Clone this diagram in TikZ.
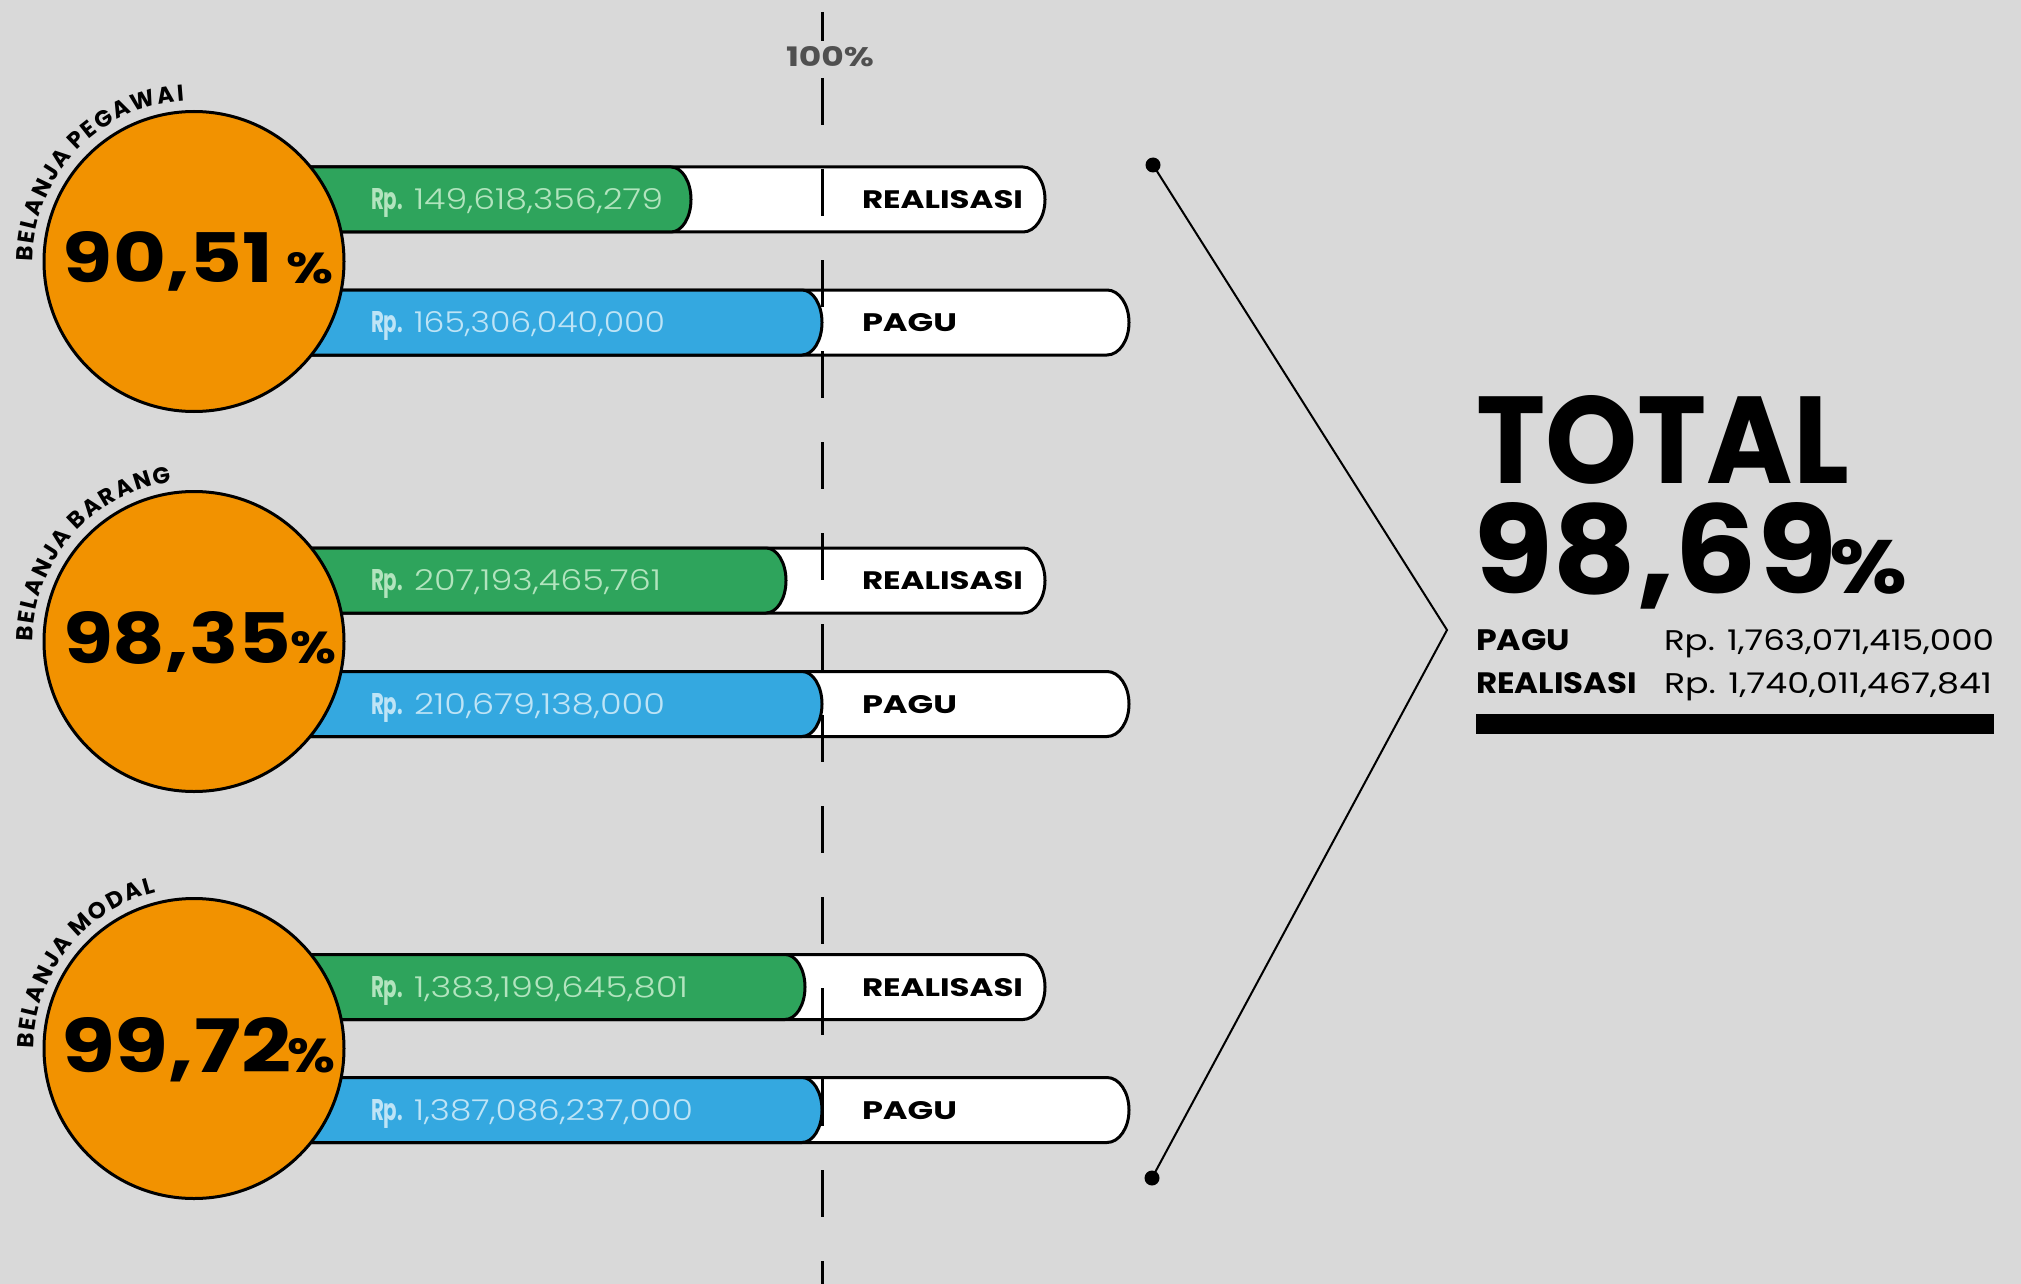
\documentclass[tikz,border=0pt]{standalone}
\usepackage{fontspec}
\usepackage{graphicx}
\setmainfont{Poppins}[Numbers=Proportional]
\newfontfamily\pbold{Poppins Bold}[Numbers=Proportional]
\newfontfamily\plight{Poppins Light}[Numbers=Proportional]
\usetikzlibrary{decorations.text}
\definecolor{bg}{RGB}{217,217,217}
\definecolor{orng}{RGB}{242,146,0}
\definecolor{grn}{RGB}{46,164,92}
\definecolor{blu}{RGB}{52,168,224}
\definecolor{gtxt}{RGB}{178,228,190}
\definecolor{btxt}{RGB}{190,228,246}
\definecolor{pgray}{RGB}{80,80,80}
\newcommand\fitbox[3]{\resizebox{#1pt}{#2pt}{#3}}
% \valbar{name}{center y}{bar end x}{fill end x}{colour}{text colour}{number width}{number}{label}
\newcommand\valbar[9]{%
  \draw[barline, fill=white] (250,-#2+32.5) -- (#3-22,-#2+32.5)
     arc[start angle=90, end angle=-90, x radius=22, y radius=32.5]
     -- (250,-#2-32.5) -- cycle;
  \draw[barline, fill=#5] (250,-#2+32.5) -- (#4-20,-#2+32.5)
     arc[start angle=90, end angle=-90, x radius=20, y radius=32.5]
     -- (250,-#2-32.5) -- cycle;
  \node[txt, text=#6] (#1rp) at (371,-#2-10) {\fitbox{32}{21}{\pbold Rp.}};
  \node[txt, text=#6] (#1num) at (414,-#2-10) {\fitbox{#7}{21}{\plight #8}};
  \node[txt] (#1lab) at (862,-#2-9) {#9};
}
\begin{document}
\begin{tikzpicture}[x=1pt, y=1pt,
  barline/.style={draw=black, line width=3pt},
  txt/.style={anchor=base west, inner sep=0pt, outer sep=0pt},
  bigcirc/.style={circle, draw=black, line width=3pt, fill=orng, minimum size=300pt, inner sep=0pt},
  dotnode/.style={circle, fill=black, minimum size=15pt, inner sep=0pt},
  arctext/.style={decorate, decoration={text along path, text align=left, text={#1}}}]
\fill[bg] (0,0) rectangle (2021,-1284);
\useasboundingbox (0,0) rectangle (2021,-1284);

% ---- row 1
\valbar{ra}{199.5}{1045}{691}{grn}{gtxt}{249}{149,618,356,279}{\fitbox{161}{18}{\pbold REALISASI}}
\valbar{pa}{322.5}{1129}{822}{blu}{btxt}{251}{165,306,040,000}{\fitbox{95}{18}{\pbold PAGU}}
% ---- row 2
\valbar{rb}{580.5}{1045}{786}{grn}{gtxt}{247}{207,193,465,761}{\fitbox{161}{18}{\pbold REALISASI}}
\valbar{pb}{704}{1129}{822}{blu}{btxt}{251}{210,679,138,000}{\fitbox{95}{18}{\pbold PAGU}}
% ---- row 3
\valbar{rc}{987}{1045}{805}{grn}{gtxt}{274}{1,383,199,645,801}{\fitbox{161}{18}{\pbold REALISASI}}
\valbar{pc}{1110}{1129}{822}{blu}{btxt}{279}{1,387,086,237,000}{\fitbox{95}{18}{\pbold PAGU}}

% ---- circles
\node[bigcirc] (c1) at (194,-261.5) {};
\node[bigcirc] (c2) at (194,-641.5) {};
\node[bigcirc] (c3) at (194,-1048.5) {};

\node[txt] (p1) at (63,-283) {\fitbox{210}{51}{\pbold 90,51}};
\node[txt] (q1) at (286,-283) {\fitbox{47}{31}{\pbold\%}};
\node[txt] (p2) at (63,-663) {\fitbox{228}{52}{\pbold 98,35}};
\node[txt] (q2) at (290,-663) {\fitbox{46}{32}{\pbold\%}};
\node[txt] (p3) at (61,-1072) {\fitbox{230}{55}{\pbold 99,72}};
\node[txt] (q3) at (287,-1072) {\fitbox{48}{34}{\pbold\%}};

\path[arctext={|\pbold\fontsize{23}{23}\selectfont|{B\kern2pt}{E\kern2pt}{L\kern2pt}{A\kern2pt}{N\kern2pt}{J\kern2pt}{A\kern2pt} {P\kern2pt}{E\kern2pt}{G\kern2pt}{A\kern2pt}{W\kern2pt}{A\kern2pt}I}]
  (33,-261.5) arc[start angle=180, end angle=60, radius=161];
\path[arctext={|\pbold\fontsize{23}{23}\selectfont|{B\kern2pt}{E\kern2pt}{L\kern2pt}{A\kern2pt}{N\kern2pt}{J\kern2pt}{A\kern2pt} {B\kern2pt}{A\kern2pt}{R\kern2pt}{A\kern2pt}{N\kern2pt}G}]
  (33,-641.5) arc[start angle=180, end angle=60, radius=161];
\path[arctext={|\pbold\fontsize{23}{23}\selectfont|{B\kern2pt}{E\kern2pt}{L\kern2pt}{A\kern2pt}{N\kern2pt}{J\kern2pt}{A\kern2pt} {M\kern2pt}{O\kern2pt}{D\kern2pt}{A\kern2pt}L}]
  (34,-1048.5) arc[start angle=180, end angle=60, radius=161];

% ---- 100% line
\coordinate (ltop) at (822,-12);
\coordinate (ltopend) at (822,-41);
\coordinate (lstart) at (822,-78);
\coordinate (lend) at (822,-1290);
\draw[line width=3pt] (ltop) -- (ltopend);
\draw[line width=3pt, dash pattern=on 47pt off 44pt] (lstart) -- (lend);
\node[inner sep=0pt, text=pgray] (hundred) at (830,-57) {\fitbox{88}{20}{\pbold 100\%}};

% ---- chevron
\node[dotnode] (d1) at (1153,-165) {};
\node[dotnode] (d2) at (1152,-1178) {};
\coordinate (apex) at (1447,-630);
\draw[line width=2pt] (d1.center) -- (apex) -- (d2.center);

% ---- total
\node[txt] (tot) at (1476,-483) {\fitbox{373}{88}{\pbold TOTAL}};
\node[txt] (tpct) at (1473,-593) {\fitbox{364}{91}{\pbold 98,69}};
\node[txt] (tpc) at (1829,-593) {\fitbox{78}{54}{\pbold\%}};
\node[txt] (lpagu) at (1476,-650) {\fitbox{94}{21}{\pbold PAGU}};
\node[txt] (vpagu) at (1664,-650) {\fitbox{330}{21}{Rp. 1,763,071,415,000}};
\node[txt] (lreal) at (1476,-693) {\fitbox{161}{21}{\pbold REALISASI}};
\node[txt] (vreal) at (1664,-693) {\fitbox{328}{21}{Rp. 1,740,011,467,841}};
\fill[black] (1476,-714) rectangle (1994,-734);
\end{tikzpicture}
\end{document}
